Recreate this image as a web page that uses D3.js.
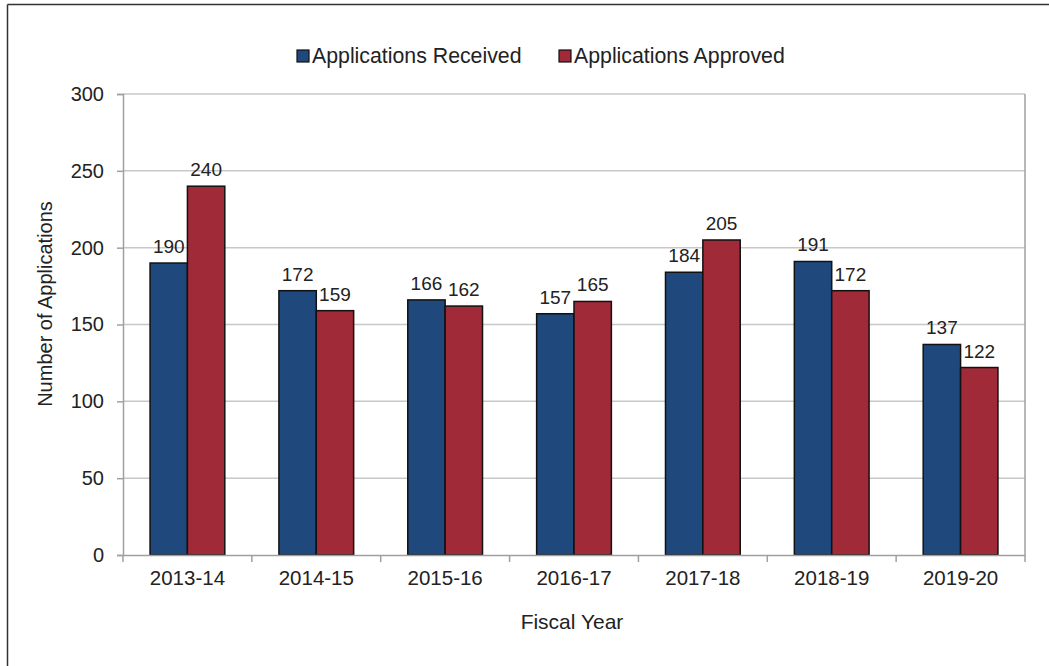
<!DOCTYPE html>
<html><head><meta charset="utf-8">
<script src="https://cdn.jsdelivr.net/npm/d3@7"></script>
<style>body{margin:0;background:#fff}svg{display:block;font-family:"Liberation Sans",Arial,sans-serif}</style>
</head><body><svg id="c" width="1049" height="666"></svg>
<script>
const categories = ["2013-14","2014-15","2015-16","2016-17","2017-18","2018-19","2019-20"];
const received = [190,172,166,157,184,191,137];
const approved = [240,159,162,165,205,172,122];
const seriesNames = ["Applications Received","Applications Approved"];
const yTicks = [0,50,100,150,200,250,300];

const svg = d3.select("#c");
const m = {l:123, t:94, r:1025, b:555};
const colors = ["#1F497D","#A12A38"];
const FS = 20;

// outer frame (top/left visible)
svg.append("line").attr("x1",7.5).attr("x2",1049).attr("y1",4.5).attr("y2",4.5).attr("stroke","#333").attr("stroke-width",1.5);
svg.append("line").attr("x1",7.5).attr("x2",7.5).attr("y1",4.5).attr("y2",666).attr("stroke","#333").attr("stroke-width",1.5);

const x0 = d3.scaleBand().domain(categories).range([m.l,m.r]).paddingInner(0.42).paddingOuter(0.21);
const x1 = d3.scaleBand().domain([0,1]).range([0,x0.bandwidth()]);
const y = d3.scaleLinear().domain([0,300]).range([m.b,m.t]);

// gridlines
svg.append("g").selectAll("line").data(yTicks.slice(1)).join("line")
  .attr("x1",m.l).attr("x2",m.r).attr("y1",d=>y(d)).attr("y2",d=>y(d))
  .attr("stroke","#c8c8c8").attr("stroke-width",1.5);
// plot border right
svg.append("line").attr("x1",m.r).attr("x2",m.r).attr("y1",m.t).attr("y2",m.b).attr("stroke","#a0a0a0").attr("stroke-width",1.5);

const data = categories.map((c,i)=>({c, v:[received[i],approved[i]]}));
const g = svg.append("g").selectAll("g").data(data).join("g").attr("transform",d=>`translate(${x0(d.c)},0)`);
g.selectAll("rect").data(d=>d.v.map((v,k)=>({v,k}))).join("rect")
  .attr("x",d=>x1(d.k)).attr("width",x1.bandwidth())
  .attr("y",d=>y(d.v)).attr("height",d=>y(0)-y(d.v))
  .attr("fill",d=>colors[d.k]).attr("stroke","#111").attr("stroke-width",1.5);
g.selectAll("text").data(d=>d.v.map((v,k)=>({v,k}))).join("text")
  .attr("x",d=>x1(d.k)+x1.bandwidth()/2).attr("y",d=>y(d.v)-10)
  .attr("text-anchor","middle").attr("font-size",19).attr("fill","#222").text(d=>d.v);

// y axis
const ya = svg.append("g").attr("transform",`translate(${m.l},0)`)
  .call(d3.axisLeft(y).tickValues(yTicks).tickSize(6).tickPadding(13));
ya.select(".domain").attr("stroke","#a0a0a0").attr("stroke-width",1.5);
ya.selectAll(".tick line").attr("stroke","#a0a0a0").attr("stroke-width",1.5);
ya.selectAll(".tick text").attr("font-size",FS).attr("fill","#222").attr("font-family","Liberation Sans, Arial, sans-serif");

// x axis
const xa = svg.append("g").attr("transform",`translate(0,${m.b})`)
  .call(d3.axisBottom(x0).tickSize(0).tickPadding(15));
xa.select(".domain").attr("stroke","#a0a0a0").attr("stroke-width",1.5);
xa.selectAll(".tick text").attr("font-size",20.5).attr("fill","#222").attr("font-family","Liberation Sans, Arial, sans-serif");
svg.append("g").selectAll("line").data(d3.range(categories.length+1)).join("line")
  .attr("x1",i=>m.l+i*(m.r-m.l)/categories.length).attr("x2",i=>m.l+i*(m.r-m.l)/categories.length)
  .attr("y1",m.b).attr("y2",m.b+7).attr("stroke","#a0a0a0").attr("stroke-width",1.5);

// axis titles
svg.append("text").attr("transform","translate(52,304) rotate(-90)").attr("text-anchor","middle")
  .attr("font-size",FS).attr("fill","#222").text("Number of Applications");
svg.append("text").attr("x",572).attr("y",629).attr("text-anchor","middle")
  .attr("font-size",21).attr("fill","#222").text("Fiscal Year");

// legend
const legX = [297,559];
const lg = svg.append("g").selectAll("g").data(seriesNames).join("g").attr("transform",(d,i)=>`translate(${legX[i]},50)`);
lg.append("rect").attr("width",12).attr("height",12).attr("fill",(d,i)=>colors[i]).attr("stroke","#111").attr("stroke-width",1.2);
lg.append("text").attr("x",15).attr("y",13).attr("font-size",21.3).attr("fill","#222").text(d=>d);
</script></body></html>
